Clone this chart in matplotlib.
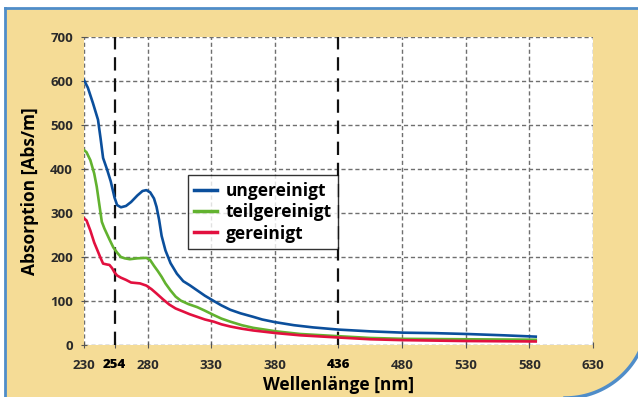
import numpy as np
import matplotlib
matplotlib.use('Agg')
import matplotlib.pyplot as plt
from matplotlib.path import Path
from matplotlib.patches import PathPatch

plt.rcParams['font.family'] = ['Open Sans', 'DejaVu Sans']

# wavelengths on the chart's own (linear) axis scale
wl_blue = [230, 233, 237, 241, 243, 245, 248, 251, 254, 256, 259, 263, 267, 272, 276, 279,
           282, 285, 287, 289, 291, 294, 298, 303, 308, 313, 319, 325, 332, 338, 345, 353,
           363, 370, 380, 395, 410, 430, 455, 481, 505, 531, 560, 585]
ungereinigt = [602, 585, 550, 512, 470, 425, 400, 372, 335, 318, 313, 316, 325, 340, 350, 352,
               347, 333, 314, 285, 248, 215, 186, 162, 145, 136, 124, 112, 100, 90, 80, 72,
               64, 58, 52, 45, 40, 35, 31, 28, 27, 25, 22, 19]

wl_green = [230, 232, 235, 238, 240, 242, 244, 246, 250, 253, 256, 259, 262, 266, 272, 279,
            282, 285, 288, 291, 294, 298, 302, 306, 312, 319, 325, 332, 338, 345, 354, 363,
            381, 400, 430, 455, 481, 530, 585]
teilgereinigt = [443, 438, 420, 390, 360, 320, 280, 265, 240, 222, 210, 200, 197, 195, 197, 198,
                 193, 180, 168, 155, 140, 124, 110, 101, 93, 86, 78, 68, 60, 53, 45, 39,
                 31, 25, 20, 16, 14, 13, 12]

wl_red = [230, 232, 235, 238, 241, 243, 245, 248, 250, 252, 254, 256, 259, 263, 267, 274,
          279, 283, 287, 292, 297, 302, 308, 313, 319, 325, 332, 338, 345, 354, 363, 381,
          400, 430, 455, 481, 530, 585]
gereinigt = [288, 283, 260, 233, 212, 198, 185, 183, 182, 175, 165, 158, 153, 148, 142, 140,
             135, 127, 117, 104, 92, 83, 76, 70, 64, 58, 53, 47, 42, 37, 33, 27,
             22, 17, 13, 11, 9, 8]

grid_x = [230, 280, 330, 380, 430, 480, 530, 580, 630]
x_ticks = [230, 254, 280, 330, 380, 430, 480, 530, 580, 630]
x_labels = ['230', '254', '280', '330', '380', '436', '480', '530', '580', '630']
marked = [254, 430]
y_ticks = [0, 100, 200, 300, 400, 500, 600, 700]

W, H = 638, 397
fig = plt.figure(figsize=(W / 100, H / 100), dpi=100)
fig.patch.set_facecolor('white')

# beige panel: straight top/left edges, rounded lower-right corner (pixel coords, y down)
cx, cy, r = 565, 315, 83
ang = np.linspace(0, np.pi / 2, 40)
arc = [(cx + r * np.cos(a), cy + r * np.sin(a)) for a in ang]
pts = [(5, H + 5), (5, 8), (W + 30, 8), (W + 30, cy), (cx + r, cy)] + arc + [(cx, H + 30)]
pts = [(x / W, 1 - y / H) for x, y in pts]
panel = PathPatch(Path(pts + [pts[0]], [Path.MOVETO] + [Path.LINETO] * len(pts)),
                  transform=fig.transFigure, facecolor='#F5DC96', edgecolor='none', zorder=-3)
fig.patches.append(panel)
left_x = [5 / W, 5 / W]
left_y = [0, 1 - 8 / H]
top_x = [5 / W, 1]
top_y = [1 - 8 / H, 1 - 8 / H]
fig.lines.append(plt.Line2D(left_x, left_y, transform=fig.transFigure,
                            color='#4F8DC9', lw=2, zorder=-2, solid_capstyle='projecting'))
fig.lines.append(plt.Line2D(top_x, top_y, transform=fig.transFigure,
                            color='#4F8DC9', lw=2, zorder=-2, solid_capstyle='projecting'))
fig.lines.append(plt.Line2D([x / W for x, y in arc], [1 - y / H for x, y in arc],
                            transform=fig.transFigure, color='#4F8DC9', lw=2.5, zorder=-2))

ax = fig.add_axes([84 / W, 1 - 345 / H, (593 - 84) / W, (345 - 37) / H])
ax.set_facecolor('white')
ax.set_xlim(230, 630)
ax.set_ylim(0, 700)

for gx in grid_x:
    if gx in marked:
        continue
    ax.axvline(gx, color='#6f6f6f', lw=1, dashes=(3, 2), zorder=1)
for gy in y_ticks:
    ax.axhline(gy, color='#6f6f6f', lw=1, dashes=(3, 2), zorder=1)
for mx in marked:
    ax.axvline(mx, color='#111111', lw=1.6, dashes=(6, 3.5), zorder=2)

for s in ax.spines.values():
    s.set_visible(False)

ax.plot(wl_blue, ungereinigt, color='#0B4F9C', lw=1.9, label='ungereinigt', zorder=4)
ax.plot(wl_green, teilgereinigt, color='#62B22F', lw=1.9, label='teilgereinigt', zorder=3)
ax.plot(wl_red, gereinigt, color='#E2103F', lw=1.9, label='gereinigt', zorder=3)

ax.set_xticks(x_ticks)
ax.set_xticklabels(x_labels)
ax.set_yticks(y_ticks)
ax.tick_params(axis='both', direction='inout', length=4, width=0.8, color='#555555',
               labelsize=9.5, pad=6)
ax.tick_params(axis='x', pad=8)
for t in ax.get_xticklabels() + ax.get_yticklabels():
    t.set_fontweight('bold')
    t.set_color('#2a2a2a')
for t, v in zip(ax.get_xticklabels(), x_ticks):
    if v in marked:
        t.set_color('black')
        t.set_fontweight('heavy')

ax.set_xlabel('Wellenlänge [nm]', fontsize=12.5, fontweight='bold', labelpad=3)
ax.set_ylabel('Absorption [Abs/m]', fontsize=12.5, fontweight='bold', labelpad=8)

leg = ax.legend(loc='upper left', bbox_to_anchor=(0.204, 0.552),
                prop={'weight': 'bold', 'size': 12.5}, frameon=True, fancybox=False,
                handlelength=1.3, handletextpad=0.5, labelspacing=0.2,
                borderpad=0.38, borderaxespad=0)
leg.get_frame().set_edgecolor('black')
leg.get_frame().set_linewidth(1)
for h in leg.get_lines():
    h.set_linewidth(2.5)
leg.set_zorder(5)

fig.savefig('out.png', dpi=100)
